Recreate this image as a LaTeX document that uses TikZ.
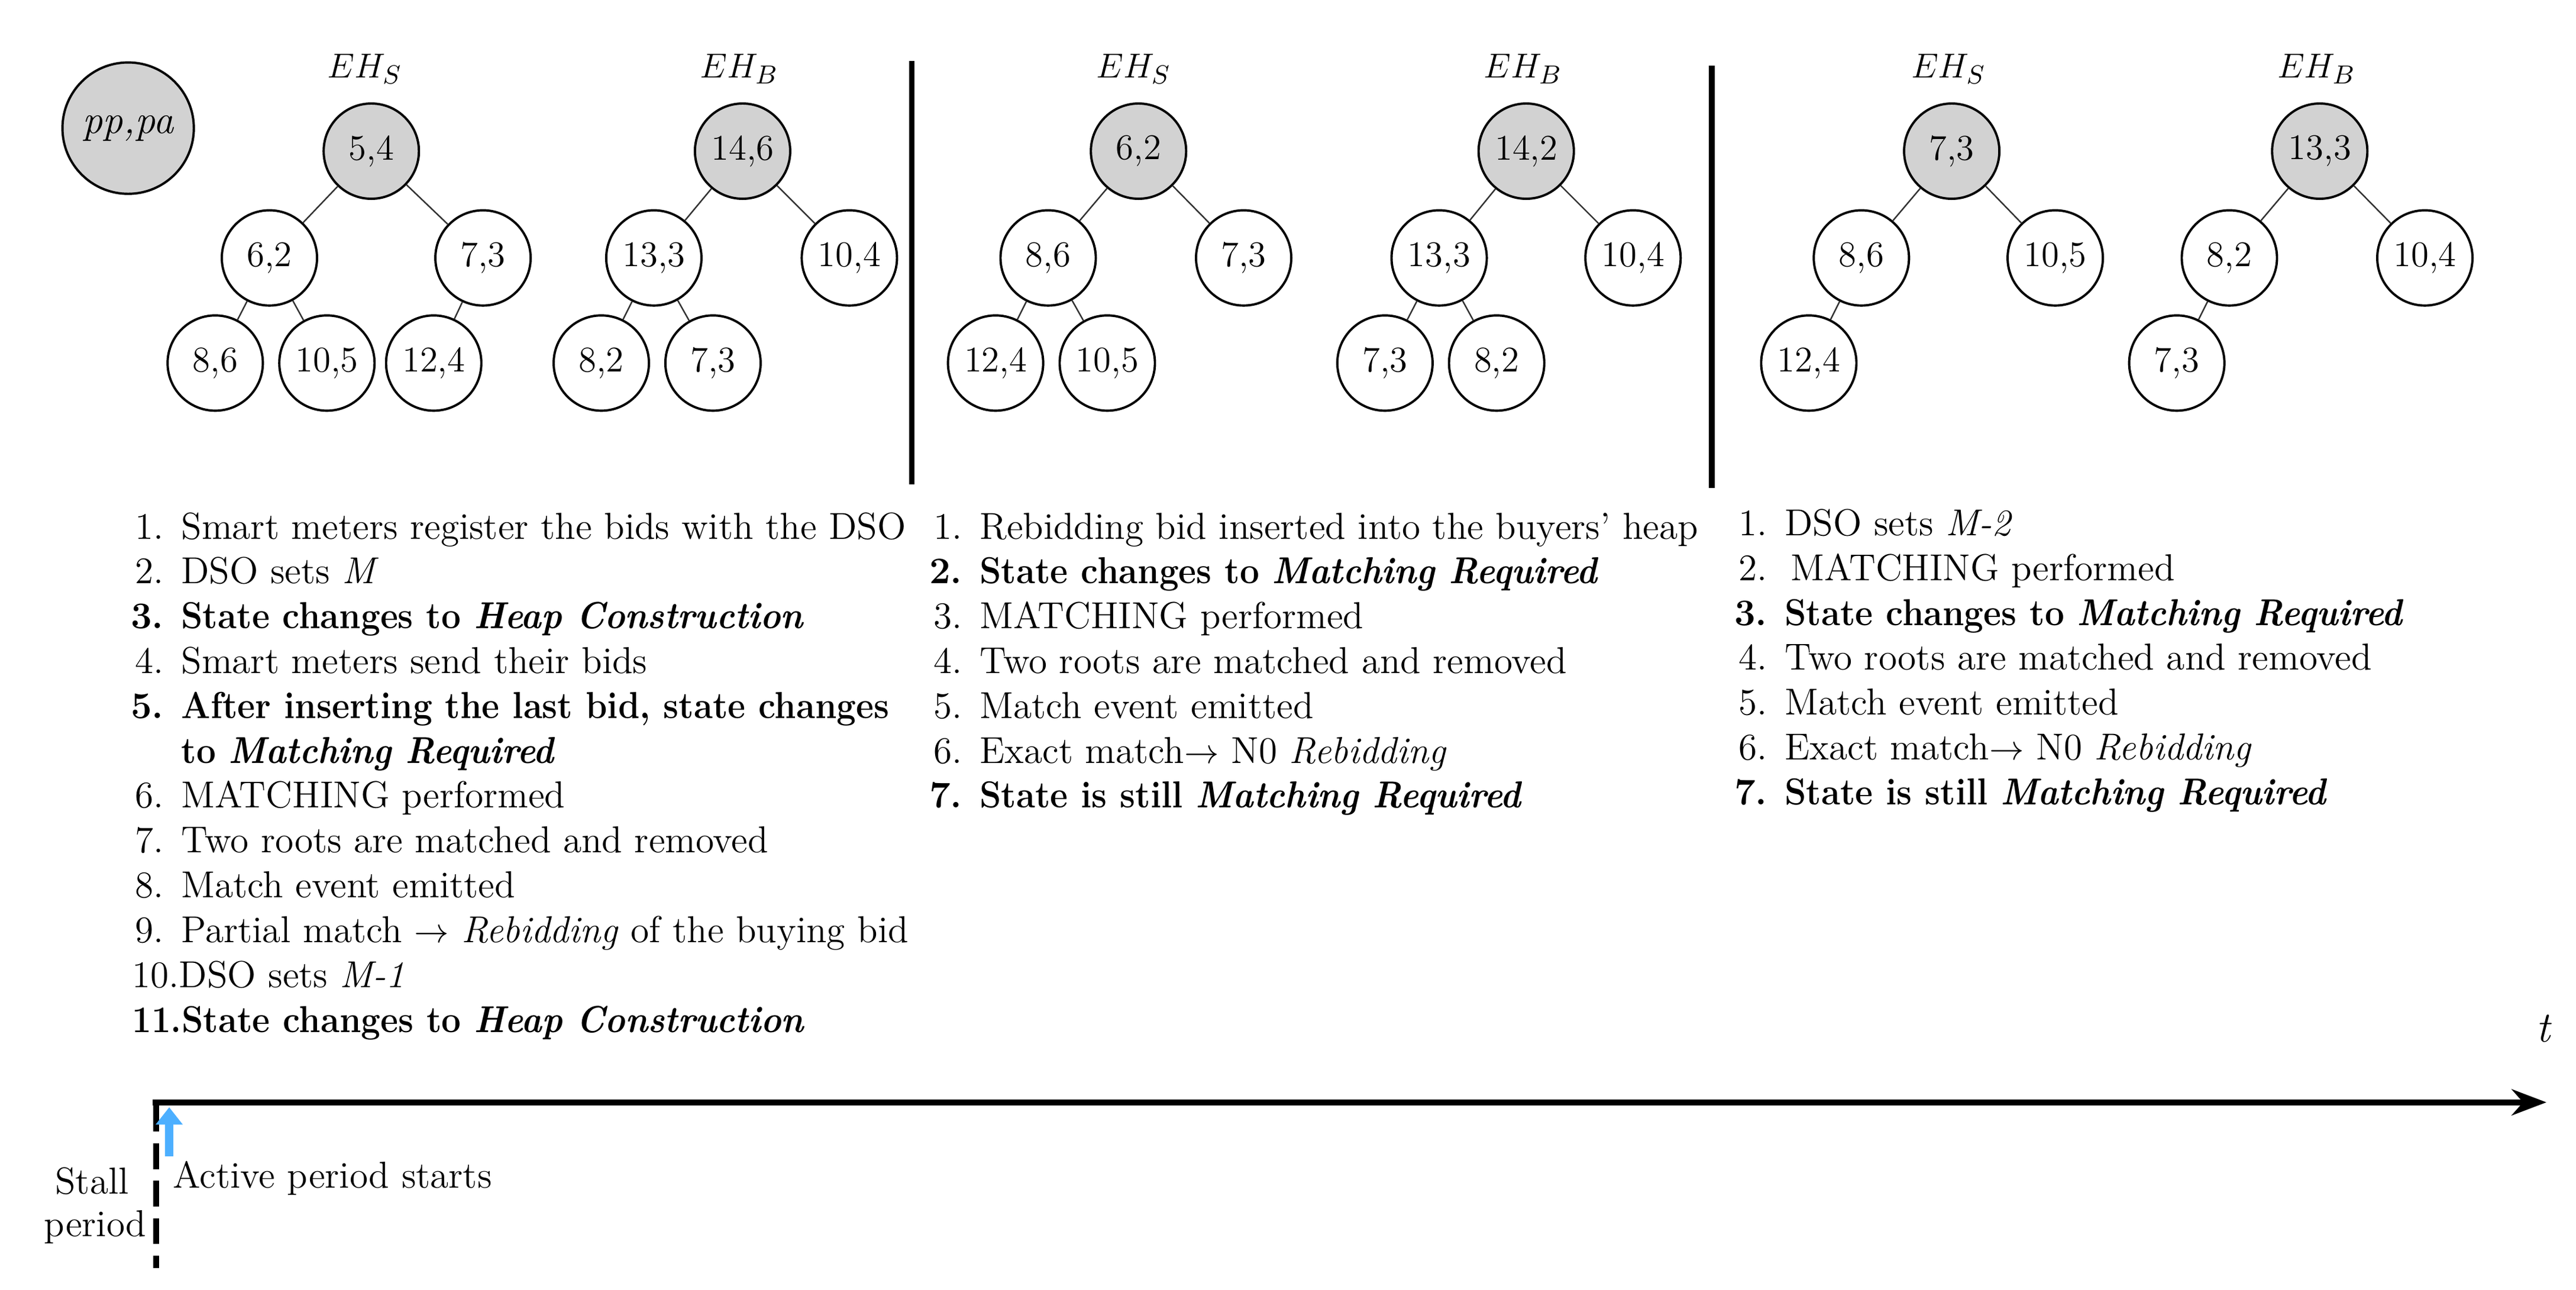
\documentclass[tikz,border=0pt]{standalone}
\usepackage{amsmath}
\usepackage{graphicx}
\usepackage{tikz}
\usetikzlibrary{arrows.meta}
\tikzstyle{key} = [circle, draw=black, thick, minimum size=1.16cm, inner sep=0pt, fill=white, font=\fontsize{12.5}{14}\selectfont]
\tikzstyle{root} = [key, fill=gray!35]
\tikzstyle{edge} = [draw=black!80, line width=0.5pt]
\tikzstyle{heap} = [font=\fontsize{13}{15}\selectfont\itshape]
\tikzstyle{item} = [anchor=base west, inner sep=0pt, font=\fontsize{13}{15}\selectfont]
\tikzstyle{divider} = [line width=2pt]
\newcommand{\lineskipy}{27.3}
\newcommand{\narrowbf}[1]{\scalebox{0.92}[1]{\textbf{#1}}}

\begin{document}
\begin{tikzpicture}[x=0.02cm, y=-0.02cm]
        \useasboundingbox (0,0) rectangle (1568,785);
        % Legend
        \node (ppa) [root, minimum size=1.6cm, font=\fontsize{14}{16}\selectfont\itshape] at (78,78) {pp,pa};

        % Panel 1
        \node [heap] at (222,42) {$EH_S$};
        \node [heap] at (450,42) {$EH_B$};
        \node (sa) [root] at (226,92) {5,4};
        \node (sb) [key] at (164,157) {6,2};
        \node (sc) [key] at (294,157) {7,3};
        \node (sd) [key] at (131,221) {8,6};
        \node (se) [key] at (199,221) {10,5};
        \node (sf) [key] at (264,221) {12,4};
        \node (ba) [root] at (452,92) {14,6};
        \node (bb) [key] at (398,157) {13,3};
        \node (bc) [key] at (517,157) {10,4};
        \node (bd) [key] at (366,221) {8,2};
        \node (be) [key] at (434,221) {7,3};
        \draw [edge] (sa) -- (sb); \draw [edge] (sa) -- (sc);
        \draw [edge] (sb) -- (sd); \draw [edge] (sb) -- (se);
        \draw [edge] (sc) -- (sf);
        \draw [edge] (ba) -- (bb); \draw [edge] (ba) -- (bc);
        \draw [edge] (bb) -- (bd); \draw [edge] (bb) -- (be);

        \coordinate (d1t) at (555,37); \coordinate (d1b) at (555,295);
        \draw [divider] (d1t) -- (d1b);

        % Panel 2
        \node [heap] at (690,42) {$EH_S$};
        \node [heap] at (927,42) {$EH_B$};
        \node (ta) [root] at (693,92) {6,2};
        \node (tb) [key] at (638,157) {8,6};
        \node (tc) [key] at (757,157) {7,3};
        \node (td) [key] at (606,221) {12,4};
        \node (te) [key] at (674,221) {10,5};
        \node (ca) [root] at (929,92) {14,2};
        \node (cb) [key] at (876,157) {13,3};
        \node (cc) [key] at (994,157) {10,4};
        \node (cd) [key] at (843,221) {7,3};
        \node (ce) [key] at (911,221) {8,2};
        \draw [edge] (ta) -- (tb); \draw [edge] (ta) -- (tc);
        \draw [edge] (tb) -- (td); \draw [edge] (tb) -- (te);
        \draw [edge] (ca) -- (cb); \draw [edge] (ca) -- (cc);
        \draw [edge] (cb) -- (cd); \draw [edge] (cb) -- (ce);

        \coordinate (d2t) at (1042,40); \coordinate (d2b) at (1042,297);
        \draw [divider] (d2t) -- (d2b);

        % Panel 3
        \node [heap] at (1186,42) {$EH_S$};
        \node [heap] at (1410,42) {$EH_B$};
        \node (ua) [root] at (1188,92) {7,3};
        \node (ub) [key] at (1133,157) {8,6};
        \node (uc) [key] at (1251,157) {10,5};
        \node (ud) [key] at (1101,221) {12,4};
        \node (ea) [root] at (1412,92) {13,3};
        \node (eb) [key] at (1357,157) {8,2};
        \node (ec) [key] at (1476,157) {10,4};
        \node (ed) [key] at (1325,221) {7,3};
        \draw [edge] (ua) -- (ub); \draw [edge] (ua) -- (uc);
        \draw [edge] (ub) -- (ud);
        \draw [edge] (ea) -- (eb); \draw [edge] (ea) -- (ec);
        \draw [edge] (eb) -- (ed);

        % Steps, first period
        \foreach \i/\txt in {0/Smart meters register the bids with the DSO,
                             1/DSO sets \textit{M},
                             2/\narrowbf{State changes to \textit{Heap Construction}},
                             3/Smart meters send their bids,
                             4/\narrowbf{After inserting the last bid{,} state changes},
                             5/\narrowbf{to \textit{Matching Required}},
                             6/MATCHING performed,
                             7/Two roots are matched and removed,
                             8/Match event emitted,
                             9/Partial match $\rightarrow$ \textit{Rebidding} of the buying bid}
            \node [item] at (110,328+\i*\lineskipy) {\txt};
        \foreach \i/\n in {0/1.,1/2.,2/\textbf{3.},3/4.,4/\textbf{5.},6/6.,7/7.,8/8.,9/9.}
            \node [item, anchor=base east] at (100,328+\i*\lineskipy) {\n};
        \node [item] at (80,328+10*\lineskipy) {10.DSO sets \textit{M-1}};
        \node [item] at (80,328+11*\lineskipy) {\narrowbf{11.State changes to \textit{Heap Construction}}};

        % Steps, second period
        \foreach \i/\n/\txt in {0/1./Rebidding bid inserted into the buyers' heap,
                                1/\textbf{2.}/\narrowbf{State changes to \textit{Matching Required}},
                                2/3./MATCHING performed,
                                3/4./Two roots are matched and removed,
                                4/5./Match event emitted,
                                5/6./Exact match$\rightarrow$ N0 \textit{Rebidding},
                                6/\textbf{7.}/\narrowbf{State is still \textit{Matching Required}}}
        {
            \node [item, anchor=base east] at (586,328+\i*\lineskipy) {\n};
            \node [item] at (596,328+\i*\lineskipy) {\txt};
        }

        % Steps, third period
        \foreach \i/\n/\txt in {0/1./DSO sets \textit{M-2},
                                1/2./\,MATCHING performed,
                                2/\textbf{3.}/\narrowbf{State changes to \textit{Matching Required}},
                                3/4./Two roots are matched and removed,
                                4/5./Match event emitted,
                                5/6./Exact match$\rightarrow$ N0 \textit{Rebidding},
                                6/\textbf{7.}/\narrowbf{State is still \textit{Matching Required}}}
        {
            \node [item, anchor=base east] at (1076,326+\i*\lineskipy) {\n};
            \node [item] at (1086,326+\i*\lineskipy) {\txt};
        }

        % Time axis
        \coordinate (t0) at (93,671);
        \coordinate (t1) at (1550,671);
        \draw [line width=2pt, -{Stealth[length=12pt, width=9pt]}] (t0) -- (t1);
        \node (tlab) [font=\fontsize{15}{17}\selectfont\itshape] at (1548,626) {t};
        \coordinate (s0) at (95,673); \coordinate (s1) at (95,772);
        \draw [line width=2pt, dash pattern=on 9pt off 4pt] (s0) -- (s1);
        \coordinate (a0) at (103,704); \coordinate (a1) at (103,674);
        \draw [draw=blue!45!cyan!70!white, line width=3pt,
               -{Triangle[length=6pt, width=9pt]}] (a0) -- (a1);
        \node (act) [item] at (105,723) {Active period starts};
        \node (stall) [font=\fontsize{13}{15}\selectfont] at (56,719) {Stall};
        \node (period) [font=\fontsize{13}{15}\selectfont] at (58,747) {period};
\end{tikzpicture}
\end{document}
